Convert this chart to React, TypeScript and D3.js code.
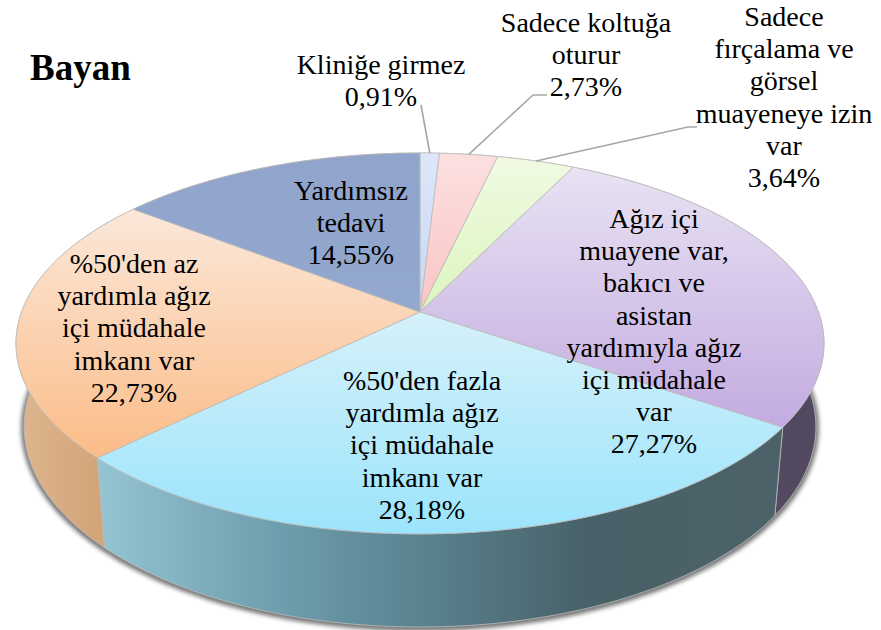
import React from "react";
import * as d3 from "d3";

const categories = ["Kliniğe girmez","Sadece koltuğa oturur","Sadece fırçalama ve görsel muayeneye izin var","Ağız içi muayene var, bakıcı ve asistan yardımıyla ağız içi müdahale var","%50'den fazla yardımla ağız içi müdahale imkanı var","%50'den az yardımla ağız içi müdahale imkanı var","Yardımsız tedavi"];
const values = [0.91,2.73,3.64,27.27,28.18,22.73,14.55];
const valueLabels = ["0,91%","2,73%","3,64%","27,27%","28,18%","22,73%","14,55%"];
const labelLines = [
  ["Kliniğe girmez"],
  ["Sadece koltuğa","oturur"],
  ["Sadece","fırçalama ve","görsel","muayeneye izin","var"],
  ["Ağız içi","muayene var,","bakıcı ve","asistan","yardımıyla ağız","içi müdahale","var"],
  ["%50'den fazla","yardımla ağız","içi müdahale","imkanı var"],
  ["%50'den az","yardımla ağız","içi müdahale","imkanı var"],
  ["Yardımsız","tedavi"],
];
const topColors = [["#DDE7F9","#C6D7F6"],["#FCE0E0","#FBC4C4"],["#F0FAE2","#DCF5BE"],["#E9E2F3","#C3ABE0"],["#D6F1FA","#9BE4FC"],["#FBE8DA","#FBBC88"],["#90A4CC","#93A8CE"]];
const wallStops = [
  [["0","#8E9AAE"],["1","#8E9AAE"]],
  [["0","#B09090"],["1","#B09090"]],
  [["0","#A0B090"],["1","#A0B090"]],
  [["0","#564C62"],["1","#524860"]],
  [["0","#95C4D2"],["0.26","#6E9FAE"],["0.49","#58808D"],["0.72","#486067"],["1","#4C6268"]],
  [["0","#DFB690"],["1","#CC9C6E"]],
  [["0","#66708A"],["1","#66708A"]],
];
const labelX = [381,586,784,654,422,134,351];
const labelY = [74,32,26,228,390,273,200];
const lineStep = 32.2;
const labelFontSize = 28;

const project = (a: number, z: number): [number, number] => {
  const X = Math.sin(a), Y = -Math.cos(a);
  const w = 1 - 0.165 * Y + 0.02 * z;
  return [420 + (398.5 * X) / w, (133.8 * Y + 312 + 90.3 * z) / w];
};
const arcPts = (a0: number, a1: number, z: number) => {
  const n = Math.max(2, Math.ceil(Math.abs(a1 - a0) * 40));
  return d3.range(n + 1).map((i) => project(a0 + ((a1 - a0) * i) / n, z));
};
const line = d3.line();
const centerPt: [number, number] = [420, 312];

export default function App() {
  const arcs = d3.pie<number>().sort(null)(values);
  const full = arcPts(0, 2 * Math.PI, 1);
  const leaders = [
    [[421, 105]],
    [[547, 95], [533, 95]],
    [[697, 127], [688, 127]],
  ];
  return (
    <svg width={881} height={630} style={{ position: "absolute", left: 0, top: 0, fontFamily: "'Liberation Serif', serif" }}>
      <defs>
        <filter id="blur" x="-5%" y="-5%" width="110%" height="110%"><feGaussianBlur stdDeviation="2" /></filter>
        {arcs.map((_, i) => (
          <React.Fragment key={i}>
            <linearGradient id={`t${i}`} x1="0" y1="0" x2="0" y2="1">
              <stop offset="0" stopColor={topColors[i][0]} />
              <stop offset="1" stopColor={topColors[i][1]} />
            </linearGradient>
            <linearGradient id={`w${i}`} x1="0" y1="0" x2="1" y2="0">
              {wallStops[i].map(([o, c]) => <stop key={o} offset={o} stopColor={c} />)}
            </linearGradient>
          </React.Fragment>
        ))}
      </defs>
      <path d={line(full)! + "Z"} transform="translate(0,1)" fill="#555" stroke="#555" strokeWidth={6} opacity={0.8} filter="url(#blur)" />
      {arcs.map((d, i) => {
        const pts = [...arcPts(d.startAngle, d.endAngle, 0), ...arcPts(d.endAngle, d.startAngle, 1)];
        return <path key={i} d={line(pts)! + "Z"} fill={`url(#w${i})`} stroke="#BDBDBD" strokeWidth={0.8} />;
      })}
      {arcs.map((d, i) => (
        <path key={i} d={line([centerPt, ...arcPts(d.startAngle, d.endAngle, 0)])! + "Z"} fill={`url(#t${i})`} stroke="#BDBDBD" strokeWidth={0.8} strokeLinejoin="round" />
      ))}
      {leaders.map((pts, i) => {
        const mid = (arcs[i].startAngle + arcs[i].endAngle) / 2;
        return <path key={i} d={line([...(pts as [number, number][]), project(mid, 0)])!} fill="none" stroke="#A6A6A6" strokeWidth={1.6} />;
      })}
      <text x={30} y={80} fontSize={37} fontWeight="bold" fill="#000">Bayan</text>
      {categories.map((c, i) => (
        <text key={c} textAnchor="middle" fontSize={labelFontSize} fill="#000">
          {[...labelLines[i], valueLabels[i]].map((t, k) => (
            <tspan key={k} x={labelX[i]} y={labelY[i] + k * lineStep}>{t}</tspan>
          ))}
        </text>
      ))}
    </svg>
  );
}
